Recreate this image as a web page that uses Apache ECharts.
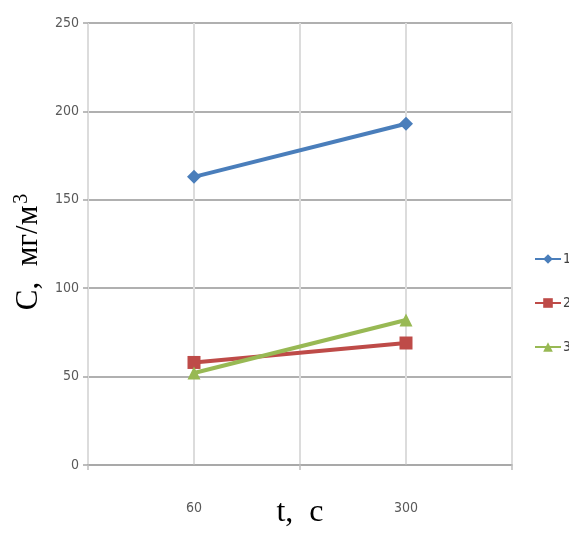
<!DOCTYPE html>
<html>
<head>
<meta charset="utf-8">
<script src="https://cdn.jsdelivr.net/npm/echarts@6/dist/echarts.min.js"></script>
<style>
  html, body { margin: 0; padding: 0; background: #fff; }
  #main { width: 569px; height: 536px; }
</style>
</head>
<body>
<div id="main"></div>
<script>
// time points, s
var categories = ['60', '300'];
var seriesNames = ['1', '2', '3'];
// concentration, mg/m3
var s1 = [163, 193];
var s2 = [58, 69];
var s3 = [52, 82];
var yTicks = [0, 50, 100, 150, 200, 250];

var narrow = '"DejaVu Sans Condensed", "Liberation Sans Narrow", sans-serif';
var serif = '"Liberation Serif", "DejaVu Serif", serif';

var chart = echarts.init(document.getElementById('main'));

function line(name, data, color, symbol) {
    return {
        name: name,
        type: 'line',
        data: data,
        symbol: symbol,
        symbolSize: symbol == 'diamond' ? 14 : 13,
        lineStyle: { color: color, width: 4 },
        itemStyle: { color: color },
        animation: false
    };
}

chart.setOption({
    animation: false,
    grid: { left: 88, right: 57, top: 23, bottom: 71, outerBoundsMode: 'none' },
    legend: {
        orient: 'vertical',
        left: 529,
        top: 247,
        itemGap: 30,
        itemWidth: 26,
        itemHeight: 12,
        data: seriesNames,
        textStyle: { fontFamily: narrow, fontSize: 14, color: '#404040', padding: [0, 0, 0, -3] }
    },
    xAxis: [{
        type: 'category',
        data: categories,
        boundaryGap: true,
        axisLine: { lineStyle: { color: '#a6a6a6', width: 1.5 } },
        axisTick: { show: true, length: 5, lineStyle: { color: '#bfbfbf', width: 1.5 } },
        axisLabel: { margin: 36, fontFamily: narrow, fontSize: 14, color: '#595959' },
        splitLine: { show: false },
        name: 't,  с',
        nameLocation: 'middle',
        nameGap: 32,
        nameMoveOverlap: false,
        nameTextStyle: { fontFamily: serif, fontSize: 32, color: '#000' }
    }, {
        // only for the vertical gridlines
        type: 'value',
        min: 0, max: 4, interval: 1,
        position: 'bottom',
        axisLine: { show: false },
        axisTick: { show: false },
        axisLabel: { show: false },
        splitLine: { show: true, lineStyle: { color: '#dcdcdc', width: 2 } }
    }],
    yAxis: {
        type: 'value',
        min: yTicks[0],
        max: yTicks[yTicks.length - 1],
        interval: 50,
        axisLine: { show: false },
        axisTick: { show: true, length: 5, lineStyle: { color: '#a6a6a6', width: 1.5 } },
        axisLabel: { margin: 9, fontFamily: narrow, fontSize: 14, color: '#595959' },
        splitLine: { lineStyle: { color: '#b0b0b0', width: 2 } },
        name: '{a|С,  мг/м}{s|3}',
        nameLocation: 'middle',
        nameGap: 42,
        nameMoveOverlap: false,
        nameTextStyle: {
            padding: [0, 16, 0, 0],
            rich: {
                a: { fontFamily: serif, fontSize: 31, color: '#000' },
                s: { fontFamily: serif, fontSize: 20, color: '#000', verticalAlign: 'top', padding: [0, 0, 14, 2] }
            }
        }
    },
    series: [
        line(seriesNames[0], s1, '#4a7ebb', 'diamond'),
        line(seriesNames[1], s2, '#be4b48', 'rect'),
        line(seriesNames[2], s3, '#98b954', 'triangle')
    ]
});
</script>
</body>
</html>
